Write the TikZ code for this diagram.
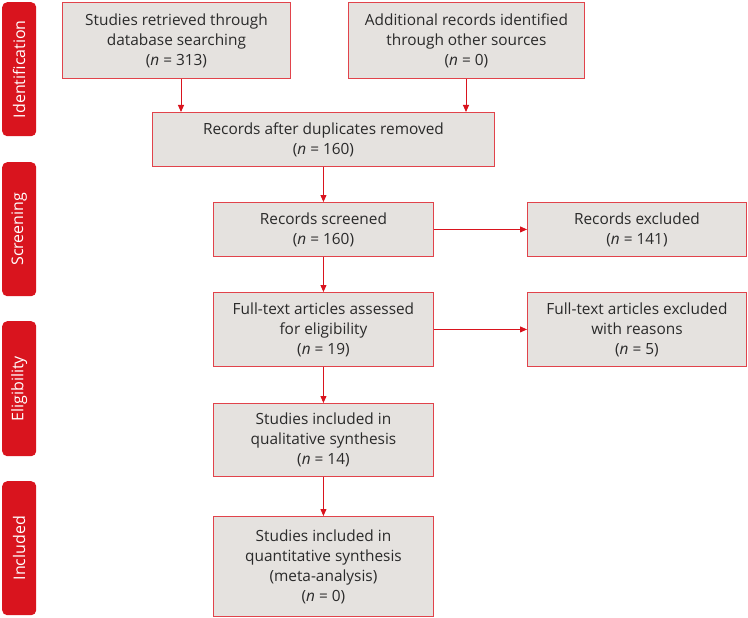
\documentclass[tikz,border=0pt]{standalone}
\usepackage{fontspec}
\setmainfont{Open Sans}
\usetikzlibrary{arrows.meta}
\definecolor{prred}{HTML}{D9141E}
\definecolor{boxgray}{HTML}{E5E2DF}
\definecolor{txt}{HTML}{2A2A2A}
\begin{document}
\begin{tikzpicture}[x=1pt,y=-1pt,
  box/.style={draw=prred!80, line width=0.9pt, fill=boxgray, align=center, text=txt,
    font=\fontsize{15.4}{20}\selectfont, inner sep=0pt},
  side/.style={fill=prred, rounded corners=5pt},
  sidetext/.style={text=white, font=\fontsize{16}{18}\selectfont, rotate=90},
  arr/.style={draw=prred, line width=0.9pt, -{Triangle[length=7pt,width=6pt]}}]
\useasboundingbox (0,0) rectangle (748,618);
% side labels
\foreach \nm/\yt/\yb/\lab in {sid/2/136/Identification, sscr/162/296/Screening, sel/321/456/Eligibility, sinc/481/615/Included}{
  \node[side, minimum width=34pt, minimum height=\yb-\yt, anchor=north west] (\nm) at (2,\yt) {};
  \node[sidetext] at (\nm.center) {\lab};
}
% boxes
\node[box, minimum width=228pt, minimum height=76pt, anchor=north west] (b1) at (62,2)
  {Studies retrieved through\\database searching\\(\textit{n} = 313)};
\node[box, minimum width=236pt, minimum height=76pt, anchor=north west] (b2) at (348,2)
  {Additional records identified\\through other sources\\(\textit{n} = 0)};
\node[box, minimum width=342pt, minimum height=54pt, anchor=north west] (b3) at (152,112)
  {Records after duplicates removed\\(\textit{n} = 160)};
\node[box, minimum width=220pt, minimum height=54pt, anchor=north west] (b4) at (213,202)
  {Records screened\\(\textit{n} = 160)};
\node[box, minimum width=219pt, minimum height=54pt, anchor=north west] (b5) at (527,202)
  {Records excluded\\(\textit{n} = 141)};
\node[box, minimum width=220pt, minimum height=74pt, anchor=north west] (b6) at (213,292)
  {Full-text articles assessed\\for eligibility\\(\textit{n} = 19)};
\node[box, minimum width=219pt, minimum height=74pt, anchor=north west] (b7) at (527,292)
  {Full-text articles excluded\\with reasons\\(\textit{n} = 5)};
\node[box, minimum width=220pt, minimum height=73pt, anchor=north west] (b8) at (213,403)
  {Studies included in\\qualitative synthesis\\(\textit{n} = 14)};
\node[box, minimum width=220pt, minimum height=100pt, anchor=north west] (b9) at (213,516)
  {Studies included in\\quantitative synthesis\\(meta-analysis)\\(\textit{n} = 0)};
% arrows
\draw[arr] (b1.south -| 181,0) -- (b3.north -| 181,0);
\draw[arr] (b2.south -| 466,0) -- (b3.north -| 466,0);
\draw[arr] (b3.south -| b4.north) -- (b4.north);
\draw[arr] (b4.east) -- (b5.west);
\draw[arr] (b4.south) -- (b6.north);
\draw[arr] (b6.east) -- (b7.west);
\draw[arr] (b6.south) -- (b8.north);
\draw[arr] (b8.south) -- (b9.north);
\end{tikzpicture}
\end{document}
